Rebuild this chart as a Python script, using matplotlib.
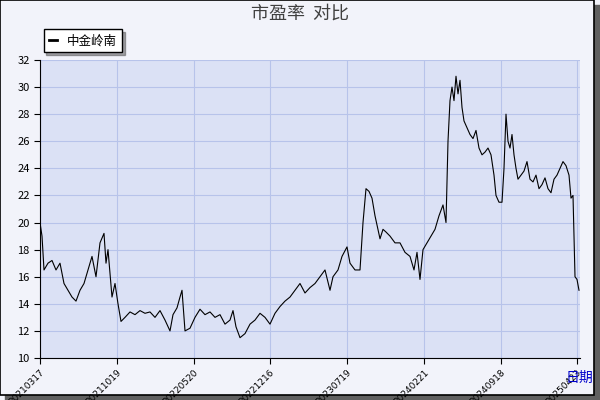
import matplotlib
matplotlib.use('Agg')
import matplotlib.pyplot as plt
from matplotlib.patches import Rectangle

plt.rcParams['font.family'] = ['Noto Sans CJK SC', 'DejaVu Sans']

# x position in trading days, PE value
days = [0, 4, 8, 16, 24, 32, 40, 48, 56, 64, 72, 80, 88, 96, 104, 112, 120, 128, 132, 136, 144, 150, 156,
        162, 170, 180, 190, 200, 210, 220, 230, 240, 250, 260, 266, 274, 280, 284, 290, 300, 310, 320, 330,
        340, 350, 360, 370, 380, 386, 392, 400, 410, 420, 430, 440, 450, 460, 470, 480, 490, 500, 510, 520,
        530, 540, 550, 560, 570, 580, 586, 596, 604, 614, 620, 630, 640, 646, 652, 658, 664, 670, 676, 680,
        686, 692, 700, 710, 720, 730, 740, 748, 754, 760, 766, 774, 782, 790, 798, 806, 812, 816, 820, 824,
        828, 832, 836, 840, 844, 848, 854, 860, 866, 872, 878, 884, 890, 896, 902, 908, 912, 918, 924, 928,
        932, 936, 940, 944, 948, 952, 956, 962, 968, 974, 980, 986, 992, 998, 1004, 1010, 1016, 1022, 1028,
        1034, 1040, 1046, 1052, 1058, 1062, 1066, 1070, 1074, 1078]
pe = [20.0, 19.0, 16.5, 17.0, 17.2, 16.5, 17.0, 15.5, 15.0, 14.5, 14.2, 15.0, 15.5, 16.5, 17.5, 16.0, 18.5,
      19.2, 17.0, 18.0, 14.5, 15.5, 14.0, 12.7, 13.0, 13.4, 13.2, 13.5, 13.3, 13.4, 13.0, 13.5, 12.8, 12.0,
      13.2, 13.7, 14.5, 15.0, 12.0, 12.2, 13.0, 13.6, 13.2, 13.4, 13.0, 13.2, 12.5, 12.8, 13.5, 12.3, 11.5,
      11.8, 12.5, 12.8, 13.3, 13.0, 12.5, 13.3, 13.8, 14.2, 14.5, 15.0, 15.5, 14.8, 15.2, 15.5, 16.0, 16.5,
      15.0, 16.0, 16.5, 17.5, 18.2, 17.0, 16.5, 16.5, 20.0, 22.5, 22.3, 21.8, 20.5, 19.5, 18.8, 19.5, 19.3,
      19.0, 18.5, 18.5, 17.8, 17.5, 16.5, 17.8, 15.8, 18.0, 18.5, 19.0, 19.5, 20.5, 21.3, 20.0, 26.0, 29.0,
      30.0, 29.0, 30.8, 29.5, 30.5, 28.5, 27.5, 27.0, 26.5, 26.2, 26.8, 25.5, 25.0, 25.2, 25.5, 25.0, 23.5,
      22.0, 21.5, 21.5, 24.0, 28.0, 26.0, 25.5, 26.5, 25.0, 24.0, 23.2, 23.5, 23.8, 24.5, 23.2, 23.0, 23.5,
      22.5, 22.8, 23.3, 22.5, 22.2, 23.2, 23.5, 24.0, 24.5, 24.2, 23.5, 21.8, 22.0, 16.0, 15.8, 15.0]
tick_days = [0, 154, 308, 460, 614, 768, 922, 1074]
tick_labels = ['20210317', '20211019', '20220520', '20221216', '20230719', '20240221', '20240918', '20250423']

fig = plt.figure(figsize=(6, 4), dpi=100, facecolor='#f2f3fa')
fig.patches.append(Rectangle((0.008, 0.0), 0.992, 0.988, transform=fig.transFigure, color='#606060', zorder=-2))
fig.patches.append(Rectangle((0.0, 0.012), 0.99, 0.988, transform=fig.transFigure, facecolor='#f2f3fa',
                             edgecolor='black', lw=1.2, zorder=-1))
ax = fig.add_axes([40/600, 42/400, 540/600, 298/400])
ax.set_facecolor('#dbe1f5')
ax.plot(days, pe, color='black', lw=0.8, label='中金岭南')
ax.set_xlim(0, 1080)
ax.set_ylim(10, 32)
ax.set_yticks(range(10, 33, 2))
ax.set_xticks(tick_days)
ax.set_xticklabels(tick_labels, rotation=45, ha='right', va='top', rotation_mode='anchor',
                   fontsize=6.5, family='DejaVu Sans')
ax.tick_params(axis='y', labelsize=8, length=4)
ax.tick_params(axis='x', length=4, pad=3)
ax.grid(True, color='#b7c3ea', lw=0.8)
for s in ['top', 'right']:
    ax.spines[s].set_visible(False)
fig.text(0.5, 0.965, '市盈率  对比', ha='center', va='center', fontsize=13, color='#404040')
fig.text(0.965, 0.055, '日期', ha='center', va='center', fontsize=10, color='#0000cc')
leg = ax.legend(loc='lower left', bbox_to_anchor=(-0.005, 1.005), fontsize=9, fancybox=False,
                shadow=True, framealpha=1, edgecolor='black', handlelength=0.7, borderpad=0.4)
for h in leg.get_lines():
    h.set_linewidth(2)
plt.savefig('out.png', facecolor=fig.get_facecolor())
